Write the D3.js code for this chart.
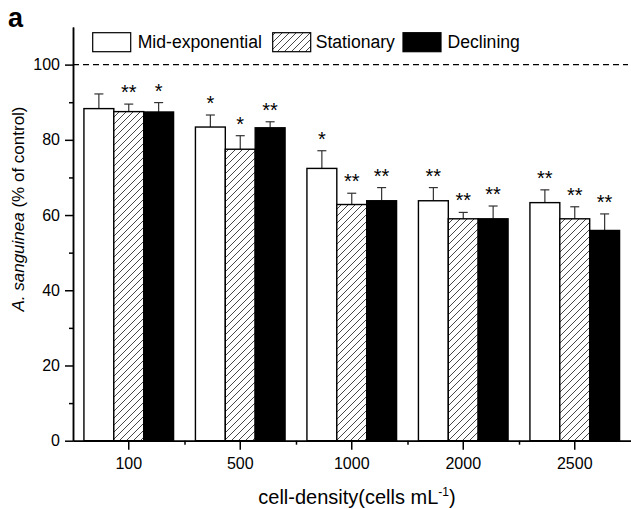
<!DOCTYPE html>
<html><head><meta charset="utf-8">
<script src="https://cdn.jsdelivr.net/npm/d3@7"></script>
<style>body{margin:0;background:#fff}svg{display:block;font-family:"Liberation Sans",Arial,sans-serif}</style>
</head><body><svg id="c" width="631" height="509"></svg>
<script>
const categories = ["100","500","1000","2000","2500"];
const seriesNames = ["Mid-exponential","Stationary","Declining"];
const midExp     = [88.3, 83.4, 72.4, 63.8, 63.3];
const stationary = [87.5, 77.5, 62.8, 59.0, 59.0];
const declining  = [87.4, 83.2, 63.8, 59.0, 55.9];
const midExpErr     = [3.9, 3.2, 4.7, 3.5, 3.4];
const stationaryErr = [2.0, 3.6, 3.0, 1.7, 3.2];
const decliningErr  = [2.5, 1.6, 3.5, 3.4, 4.4];
const midExpSig     = ["", "*", "*", "**", "**"];
const stationarySig = ["**", "*", "**", "**", "**"];
const decliningSig  = ["*", "**", "**", "**", "**"];
const yTicks = [0, 20, 40, 60, 80, 100];
const yMinor = [10, 30, 50, 70, 90];
const refLine = 100;

const svg = d3.select("#c");
const L = 73, R = 630.5, T = 27, B = 440.7;
const x = d3.scaleBand().domain(categories).range([L, R]).paddingInner(0.196).paddingOuter(0.098);
const xs = d3.scaleBand().domain(d3.range(3)).range([0, x.bandwidth()]);
const xl = d3.scaleLinear().domain([0, 5]).range([L, R]);
const y = d3.scaleLinear().domain([0, 110]).range([B, T]);

const defs = svg.append("defs");
const pat = defs.append("pattern").attr("id","hatch").attr("patternUnits","userSpaceOnUse").attr("width",7).attr("height",7);
pat.append("rect").attr("width",7).attr("height",7).attr("fill","#fff");
pat.append("path").attr("d","M-1,1 L1,-1 M0,7 L7,0 M6,8 L8,6").attr("stroke","#333").attr("stroke-width",0.9);

const fills = ["#fff","url(#hatch)","#000"];
const series = [
  {v: midExp, e: midExpErr, s: midExpSig},
  {v: stationary, e: stationaryErr, s: stationarySig},
  {v: declining, e: decliningErr, s: decliningSig}
];

// reference dashed line
svg.append("line").attr("x1", L).attr("x2", 628).attr("y1", y(refLine)).attr("y2", y(refLine))
  .attr("stroke","#000").attr("stroke-width",1.2).attr("stroke-dasharray","6,4");

series.forEach((s, si) => {
  const g = svg.append("g");
  categories.forEach((c, ci) => {
    const x0 = x(c) + xs(si), w = xs.bandwidth(), cx = x0 + w/2;
    const top = y(s.v[ci] + s.e[ci]);
    g.append("line").attr("x1",cx).attr("x2",cx).attr("y1",y(s.v[ci])).attr("y2",top).attr("stroke","#333").attr("stroke-width",1.2);
    g.append("line").attr("x1",cx-4.5).attr("x2",cx+4.5).attr("y1",top).attr("y2",top).attr("stroke","#333").attr("stroke-width",1.2);
    g.append("rect").attr("x",x0).attr("y",y(s.v[ci])).attr("width",w).attr("height",y(0)-y(s.v[ci]))
      .attr("fill",fills[si]).attr("stroke","#000").attr("stroke-width",1.4);
    if (s.s[ci]) g.append("text").attr("x",cx).attr("y",top-5).attr("text-anchor","middle")
      .attr("font-size",20).text(s.s[ci]);
  });
});

// axes
svg.append("g").attr("transform",`translate(${L},0)`)
  .call(d3.axisLeft(y).tickValues(yTicks).tickSize(8).tickPadding(5).tickSizeOuter(0));
svg.append("g").attr("transform",`translate(${L},0)`)
  .call(d3.axisLeft(y).tickValues(yMinor).tickSize(4).tickFormat("").tickSizeOuter(0));
svg.append("g").attr("transform",`translate(0,${B})`)
  .call(d3.axisBottom(x).tickSize(9).tickPadding(8).tickSizeOuter(0));
svg.append("g").attr("transform",`translate(0,${B})`)
  .call(d3.axisBottom(xl).tickValues([1,2,3,4]).tickSize(4).tickFormat("").tickSizeOuter(0));
svg.selectAll(".domain, .tick line").attr("stroke","#000").attr("stroke-width",1.5);
svg.selectAll(".tick text").attr("font-size",16).attr("fill","#000").attr("font-family","Liberation Sans, Arial, sans-serif");

// axis titles
const xt = svg.append("text").attr("x",357).attr("y",504).attr("text-anchor","middle").attr("font-size",20);
xt.append("tspan").text("cell-density(cells mL");
xt.append("tspan").attr("font-size",12).attr("dy",-8).text("-1");
xt.append("tspan").attr("dy",8).text(")");

const yt = svg.append("text").attr("transform","translate(24,209) rotate(-90)").attr("text-anchor","middle").attr("font-size",17);
yt.append("tspan").attr("font-style","italic").text("A. sanguinea");
yt.append("tspan").text(" (% of control)");

// legend
const leg = [{x:92.7, tx:137.7}, {x:272.7, tx:315.7}, {x:403, tx:447.5}];
seriesNames.forEach((n, i) => {
  svg.append("rect").attr("x",leg[i].x).attr("y",32.7).attr("width",38).attr("height",19)
    .attr("fill",fills[i]).attr("stroke","#000").attr("stroke-width",1.2);
  svg.append("text").attr("x",leg[i].tx).attr("y",48).attr("font-size",17.6).text(n);
});

// panel label
svg.append("text").attr("x",8).attr("y",27).attr("font-size",27).attr("font-weight","bold").text("a");
</script></body></html>
